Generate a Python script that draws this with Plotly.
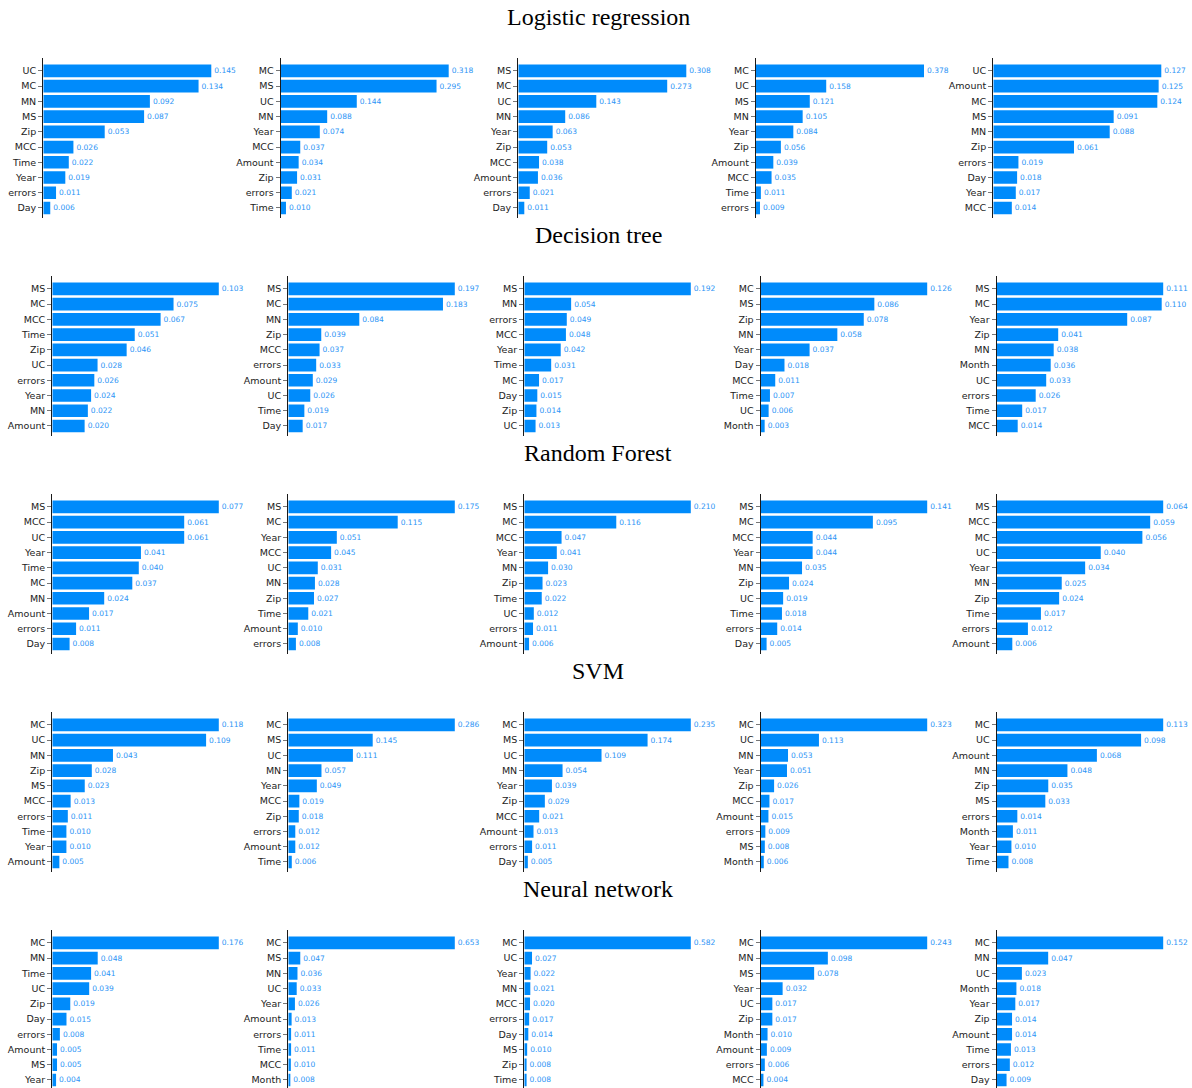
import plotly.graph_objects as go

# Feature importances per model, five folds each (top-to-bottom order)
models = ["Logistic regression", "Decision tree", "Random Forest", "SVM", "Neural network"]

lr_features = [
    ["UC", "MC", "MN", "MS", "Zip", "MCC", "Time", "Year", "errors", "Day"],
    ["MC", "MS", "UC", "MN", "Year", "MCC", "Amount", "Zip", "errors", "Time"],
    ["MS", "MC", "UC", "MN", "Year", "Zip", "MCC", "Amount", "errors", "Day"],
    ["MC", "UC", "MS", "MN", "Year", "Zip", "Amount", "MCC", "Time", "errors"],
    ["UC", "Amount", "MC", "MS", "MN", "Zip", "errors", "Day", "Year", "MCC"],
]
lr_values = [
    [0.145, 0.134, 0.092, 0.087, 0.053, 0.026, 0.022, 0.019, 0.011, 0.006],
    [0.318, 0.295, 0.144, 0.088, 0.074, 0.037, 0.034, 0.031, 0.021, 0.010],
    [0.308, 0.273, 0.143, 0.086, 0.063, 0.053, 0.038, 0.036, 0.021, 0.011],
    [0.378, 0.158, 0.121, 0.105, 0.084, 0.056, 0.039, 0.035, 0.011, 0.009],
    [0.127, 0.125, 0.124, 0.091, 0.088, 0.061, 0.019, 0.018, 0.017, 0.014],
]

dt_features = [
    ["MS", "MC", "MCC", "Time", "Zip", "UC", "errors", "Year", "MN", "Amount"],
    ["MS", "MC", "MN", "Zip", "MCC", "errors", "Amount", "UC", "Time", "Day"],
    ["MS", "MN", "errors", "MCC", "Year", "Time", "MC", "Day", "Zip", "UC"],
    ["MC", "MS", "Zip", "MN", "Year", "Day", "MCC", "Time", "UC", "Month"],
    ["MS", "MC", "Year", "Zip", "MN", "Month", "UC", "errors", "Time", "MCC"],
]
dt_values = [
    [0.103, 0.075, 0.067, 0.051, 0.046, 0.028, 0.026, 0.024, 0.022, 0.020],
    [0.197, 0.183, 0.084, 0.039, 0.037, 0.033, 0.029, 0.026, 0.019, 0.017],
    [0.192, 0.054, 0.049, 0.048, 0.042, 0.031, 0.017, 0.015, 0.014, 0.013],
    [0.126, 0.086, 0.078, 0.058, 0.037, 0.018, 0.011, 0.007, 0.006, 0.003],
    [0.111, 0.110, 0.087, 0.041, 0.038, 0.036, 0.033, 0.026, 0.017, 0.014],
]

rf_features = [
    ["MS", "MCC", "UC", "Year", "Time", "MC", "MN", "Amount", "errors", "Day"],
    ["MS", "MC", "Year", "MCC", "UC", "MN", "Zip", "Time", "Amount", "errors"],
    ["MS", "MC", "MCC", "Year", "MN", "Zip", "Time", "UC", "errors", "Amount"],
    ["MS", "MC", "MCC", "Year", "MN", "Zip", "UC", "Time", "errors", "Day"],
    ["MS", "MCC", "MC", "UC", "Year", "MN", "Zip", "Time", "errors", "Amount"],
]
rf_values = [
    [0.077, 0.061, 0.061, 0.041, 0.040, 0.037, 0.024, 0.017, 0.011, 0.008],
    [0.175, 0.115, 0.051, 0.045, 0.031, 0.028, 0.027, 0.021, 0.010, 0.008],
    [0.210, 0.116, 0.047, 0.041, 0.030, 0.023, 0.022, 0.012, 0.011, 0.006],
    [0.141, 0.095, 0.044, 0.044, 0.035, 0.024, 0.019, 0.018, 0.014, 0.005],
    [0.064, 0.059, 0.056, 0.040, 0.034, 0.025, 0.024, 0.017, 0.012, 0.006],
]

svm_features = [
    ["MC", "UC", "MN", "Zip", "MS", "MCC", "errors", "Time", "Year", "Amount"],
    ["MC", "MS", "UC", "MN", "Year", "MCC", "Zip", "errors", "Amount", "Time"],
    ["MC", "MS", "UC", "MN", "Year", "Zip", "MCC", "Amount", "errors", "Day"],
    ["MC", "UC", "MN", "Year", "Zip", "MCC", "Amount", "errors", "MS", "Month"],
    ["MC", "UC", "Amount", "MN", "Zip", "MS", "errors", "Month", "Year", "Time"],
]
svm_values = [
    [0.118, 0.109, 0.043, 0.028, 0.023, 0.013, 0.011, 0.010, 0.010, 0.005],
    [0.286, 0.145, 0.111, 0.057, 0.049, 0.019, 0.018, 0.012, 0.012, 0.006],
    [0.235, 0.174, 0.109, 0.054, 0.039, 0.029, 0.021, 0.013, 0.011, 0.005],
    [0.323, 0.113, 0.053, 0.051, 0.026, 0.017, 0.015, 0.009, 0.008, 0.006],
    [0.113, 0.098, 0.068, 0.048, 0.035, 0.033, 0.014, 0.011, 0.010, 0.008],
]

nn_features = [
    ["MC", "MN", "Time", "UC", "Zip", "Day", "errors", "Amount", "MS", "Year"],
    ["MC", "MS", "MN", "UC", "Year", "Amount", "errors", "Time", "MCC", "Month"],
    ["MC", "UC", "Year", "MN", "MCC", "errors", "Day", "MS", "Zip", "Time"],
    ["MC", "MN", "MS", "Year", "UC", "Zip", "Month", "Amount", "errors", "MCC"],
    ["MC", "MN", "UC", "Month", "Year", "Zip", "Amount", "Time", "errors", "Day"],
]
nn_values = [
    [0.176, 0.048, 0.041, 0.039, 0.019, 0.015, 0.008, 0.005, 0.005, 0.004],
    [0.653, 0.047, 0.036, 0.033, 0.026, 0.013, 0.011, 0.011, 0.010, 0.008],
    [0.582, 0.027, 0.022, 0.021, 0.020, 0.017, 0.014, 0.010, 0.008, 0.008],
    [0.243, 0.098, 0.078, 0.032, 0.017, 0.017, 0.010, 0.009, 0.006, 0.004],
    [0.152, 0.047, 0.023, 0.018, 0.017, 0.014, 0.014, 0.013, 0.012, 0.009],
]

all_features = [lr_features, dt_features, rf_features, svm_features, nn_features]
all_values = [lr_values, dt_values, rf_values, svm_values, nn_values]

# Layout geometry (pixels)
W, H = 1192, 1088
BAR_COLOR = "#008bfb"
# left edge (axis line) of each panel, per row
col_x_first = [43.3, 280.7, 518.3, 756.0, 993.3]
col_x_rest = [52.3, 288.3, 524.3, 760.7, 996.7]
plot_w = 193           # width of each panel
bar_px_first = 168     # length of the longest bar in each panel (first row)
bar_px_rest = 166.5
row_top0 = 58          # top of first row's axis
row_step = 218.0
y_lo, y_hi = 9.66, -0.85          # category range shown in each panel
row_h = 160
px_per_cat = row_h / (y_lo - y_hi)
title_offset = 41      # title centre above the axis top

fig = go.Figure()
layout_axes = {}
annotations = []

idx = 0
for r, model in enumerate(models):
    top = row_top0 + r * row_step
    bottom = top + row_h
    lo = y_lo
    if bottom > H:
        # keep the same bar spacing when the panel meets the page edge
        lo = y_lo - (bottom - H) / px_per_cat
        bottom = H
    col_x = col_x_first if r == 0 else col_x_rest
    bar_px = bar_px_first if r == 0 else bar_px_rest
    annotations.append(dict(
        text=model, x=0.502, y=1 - (top - title_offset) / H, xref="paper", yref="paper",
        showarrow=False, xanchor="center", yanchor="middle",
        font=dict(family="Liberation Serif", size=24, color="#000"),
    ))
    for c in range(5):
        idx += 1
        feats = all_features[r][c]
        vals = all_values[r][c]
        xname = "x" if idx == 1 else f"x{idx}"
        yname = "y" if idx == 1 else f"y{idx}"
        fig.add_trace(go.Bar(
            x=vals, y=feats, orientation="h", xaxis=xname, yaxis=yname,
            marker=dict(color=BAR_COLOR, line=dict(width=0)),
            width=0.83,
            text=[f"{v:.3f}" for v in vals], textposition="outside",
            textfont=dict(family="DejaVu Sans", size=7.5, color="#2b94f6"),
            cliponaxis=False, showlegend=False, hoverinfo="skip",
        ))
        x0 = col_x[c]
        xmax = max(vals) * plot_w / bar_px
        xkey = "xaxis" if idx == 1 else f"xaxis{idx}"
        ykey = "yaxis" if idx == 1 else f"yaxis{idx}"
        layout_axes[xkey] = dict(
            domain=[x0 / W, min(1.0, (x0 + plot_w) / W)], range=[0, xmax],
            visible=False, anchor=yname,
        )
        layout_axes[ykey] = dict(
            domain=[max(0.0, 1 - bottom / H), 1 - top / H], anchor=xname,
            type="category", categoryorder="array", categoryarray=feats,
            range=[lo, y_hi],
            showline=True, linecolor="#1a1a1a", linewidth=1.4,
            showgrid=False, zeroline=False,
            ticks="outside", ticklen=4, tickwidth=1, tickcolor="#777",
            tickfont=dict(family="DejaVu Sans", size=9.5, color="#222"),
        )

fig.update_layout(
    width=W, height=H, margin=dict(l=0, r=0, t=0, b=0),
    paper_bgcolor="white", plot_bgcolor="white",
    annotations=annotations,
    **layout_axes,
)

fig.write_html("out.html")
